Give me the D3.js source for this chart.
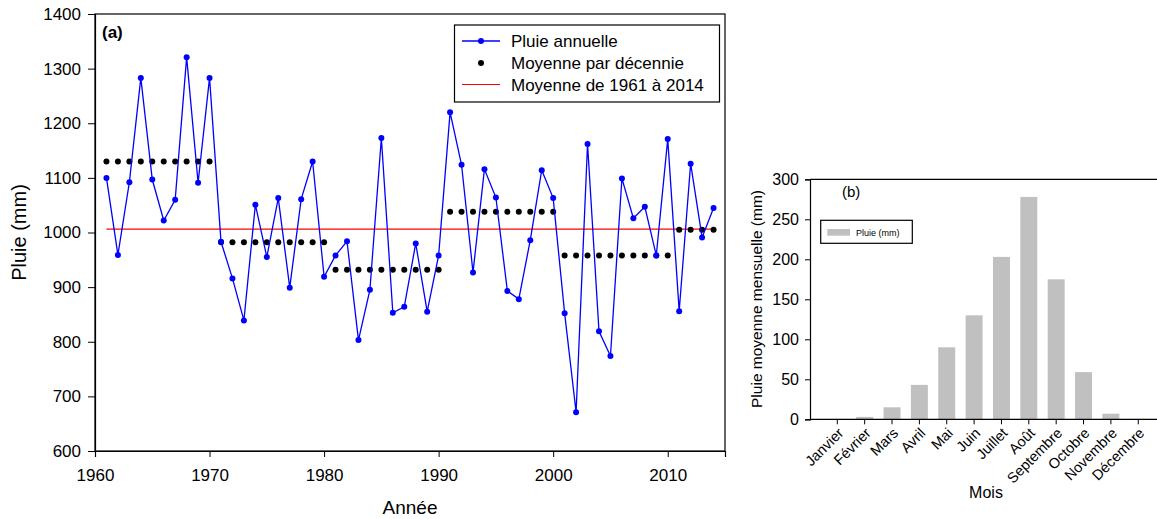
<!DOCTYPE html>
<html><head><meta charset="utf-8">
<script src="https://cdn.jsdelivr.net/npm/d3@7"></script>
<style>
html,body{margin:0;padding:0;background:#fff;}
text{font-family:"Liberation Sans",Arial,sans-serif;fill:#000;}
</style></head>
<body>
<svg id="c" width="1157" height="519"></svg>
<script>
// ---------- Data (a) ----------
const years = [1961,1962,1963,1964,1965,1966,1967,1968,1969,1970,
               1971,1972,1973,1974,1975,1976,1977,1978,1979,1980,
               1981,1982,1983,1984,1985,1986,1987,1988,1989,1990,
               1991,1992,1993,1994,1995,1996,1997,1998,1999,2000,
               2001,2002,2003,2004,2005,2006,2007,2008,2009,2010,
               2011,2012,2013,2014];
const annualRain = [1100,959,1092,1283,1097,1022,1060,1321,1091,1283,
                    983,916,839,1051,955,1063,899,1061,1130,919,
                    958,984,803,895,1173,853,864,980,855,958,
                    1220,1124,927,1116,1064,893,878,986,1114,1063,
                    852,671,1162,819,774,1099,1026,1047,958,1171,
                    856,1126,991,1045];
const decadeStart = [1961,1971,1981,1991,2001,2011];
const decadeEnd   = [1970,1980,1990,2000,2010,2014];
const decadeMean  = [1130,982,932,1038,958,1005];
const overallMean = 1006;
const yearTicks = [1960,1970,1980,1990,2000,2010];
const rainTicks = [600,700,800,900,1000,1100,1200,1300,1400];
const legendA = ["Pluie annuelle","Moyenne par décennie","Moyenne de 1961 à 2014"];

// ---------- Data (b) ----------
const months = ["Janvier","Février","Mars","Avril","Mai","Juin","Juillet","Août","Septembre","Octobre","Novembre","Décembre"];
const monthlyRain = [0.5,3,15,43,90,130,203,278,175,59,7,0.5];
const monthTicks = [0,50,100,150,200,250,300];

const svg = d3.select("#c");

// ================= Chart (a) =================
const L = {x0:95, x1:725, y0:14, y1:451};
const xA = d3.scaleLinear().domain([1960,2015]).range([L.x0,L.x1]);
const yA = d3.scaleLinear().domain([600,1400]).range([L.y1,L.y0]);

const gA = svg.append("g");
gA.append("rect").attr("x",L.x0).attr("y",L.y0).attr("width",L.x1-L.x0).attr("height",L.y1-L.y0)
  .attr("fill","none").attr("stroke","#000").attr("stroke-width",1.2);

const axLeft = gA.append("g").attr("transform",`translate(${L.x0},0)`)
  .call(d3.axisLeft(yA).tickValues(rainTicks).tickSize(7).tickPadding(7).tickFormat(d3.format("d")));
axLeft.select(".domain").attr("stroke-width",1.2);
axLeft.selectAll("text").attr("font-size",17).attr("font-family","Liberation Sans, Arial");

const axBot = gA.append("g").attr("transform",`translate(0,${L.y1})`)
  .call(d3.axisBottom(xA).tickValues(yearTicks).tickSize(6).tickPadding(12).tickFormat(d3.format("d")));
axBot.select(".domain").attr("stroke-width",1.2);
axBot.selectAll("text").attr("font-size",17).attr("font-family","Liberation Sans, Arial");

gA.append("line").attr("x1",xA(1961)).attr("x2",xA(2014)).attr("y1",yA(overallMean)).attr("y2",yA(overallMean))
  .attr("stroke","#ff0000").attr("stroke-width",1.2);

const decDots = [];
decadeStart.forEach((s,i)=>{ years.filter(y=>y>=s && y<=decadeEnd[i]).forEach(y=>decDots.push({y, v:decadeMean[i]})); });
gA.append("g").selectAll("circle").data(decDots).join("circle")
  .attr("cx",d=>xA(d.y)).attr("cy",d=>yA(d.v)).attr("r",3).attr("fill","#000");

const ann = years.map((y,i)=>({y, v:annualRain[i]}));
gA.append("path").datum(ann).attr("fill","none").attr("stroke","#0000ff").attr("stroke-width",1.3)
  .attr("d", d3.line().x(d=>xA(d.y)).y(d=>yA(d.v)));
gA.append("g").selectAll("circle").data(ann).join("circle")
  .attr("cx",d=>xA(d.y)).attr("cy",d=>yA(d.v)).attr("r",3).attr("fill","#0000ff");

gA.append("text").attr("x",102).attr("y",38).attr("font-size",17).attr("font-weight","bold").text("(a)");
gA.append("text").attr("transform",`translate(26,${(L.y0+L.y1)/2}) rotate(-90)`).attr("text-anchor","middle")
  .attr("font-size",20).text("Pluie (mm)");
gA.append("text").attr("x",410).attr("y",514).attr("text-anchor","middle").attr("font-size",19).text("Année");

const lg = gA.append("g");
lg.append("rect").attr("x",454.5).attr("y",25).attr("width",265).attr("height",77)
  .attr("fill","#fff").attr("stroke","#000").attr("stroke-width",1.2);
const rowY = [41,63,84.5];
lg.append("line").attr("x1",462).attr("x2",500).attr("y1",rowY[0]).attr("y2",rowY[0]).attr("stroke","#0000ff").attr("stroke-width",1.3);
lg.append("circle").attr("cx",481).attr("cy",rowY[0]).attr("r",3).attr("fill","#0000ff");
lg.append("circle").attr("cx",481).attr("cy",rowY[1]).attr("r",3).attr("fill","#000");
lg.append("line").attr("x1",462).attr("x2",500).attr("y1",rowY[2]).attr("y2",rowY[2]).attr("stroke","#ff0000").attr("stroke-width",1.2);
legendA.forEach((t,i)=>{
  lg.append("text").attr("x",511).attr("y",rowY[i]+6).attr("font-size",17).text(t);
});

// ================= Chart (b) =================
const R = {x0:810, x1:1160, y0:179.3, y1:419.3};
const step = 27.36;
const xB = d3.scaleBand().domain(months).range([837.3-step/2, 837.3-step/2+step*12]).paddingInner(0.38).paddingOuter(0.19);
const yB = d3.scaleLinear().domain([0,300]).range([R.y1,R.y0]);

const gB = svg.append("g");
gB.append("line").attr("x1",R.x0).attr("x2",R.x1).attr("y1",R.y0).attr("y2",R.y0).attr("stroke","#000").attr("stroke-width",1.2);

gB.append("g").selectAll("rect").data(months).join("rect")
  .attr("x",d=>xB(d)).attr("width",xB.bandwidth())
  .attr("y",(d,i)=>yB(monthlyRain[i])).attr("height",(d,i)=>yB(0)-yB(monthlyRain[i]))
  .attr("fill","#c0c0c0");

const axLB = gB.append("g").attr("transform",`translate(${R.x0},0)`)
  .call(d3.axisLeft(yB).tickValues(monthTicks).tickSize(5).tickPadding(6));
axLB.select(".domain").attr("stroke-width",1.2);
axLB.selectAll("text").attr("font-size",16).attr("font-family","Liberation Sans, Arial");

const axBB = gB.append("g").attr("transform",`translate(0,${R.y1})`)
  .call(d3.axisBottom(xB).tickSize(5).tickSizeOuter(0));
axBB.select(".domain").attr("d",`M${R.x0},0H${R.x1}`).attr("stroke-width",1.2);
axBB.selectAll("text").remove();
gB.append("g").selectAll("text").data(months).join("text")
  .attr("transform",d=>{const x=xB(d)+xB.bandwidth()/2+7; return `translate(${x},434) rotate(-45)`;})
  .attr("text-anchor","end").attr("font-size",14.5).text(d=>d);

gB.append("text").attr("x",842).attr("y",197).attr("font-size",15).text("(b)");
gB.append("text").attr("transform",`translate(762,299) rotate(-90)`).attr("text-anchor","middle")
  .attr("font-size",15.5).text("Pluie moyenne mensuelle (mm)");
gB.append("text").attr("x",986).attr("y",498).attr("text-anchor","middle").attr("font-size",16).text("Mois");

gB.append("rect").attr("x",820.7).attr("y",220.3).attr("width",91.6).attr("height",23)
  .attr("fill","#fff").attr("stroke","#000").attr("stroke-width",1.2);
gB.append("rect").attr("x",827.3).attr("y",229).attr("width",22.7).attr("height",6.7).attr("fill","#c0c0c0");
gB.append("text").attr("x",856).attr("y",235.5).attr("font-size",9).text("Pluie (mm)");
</script>
</body></html>
